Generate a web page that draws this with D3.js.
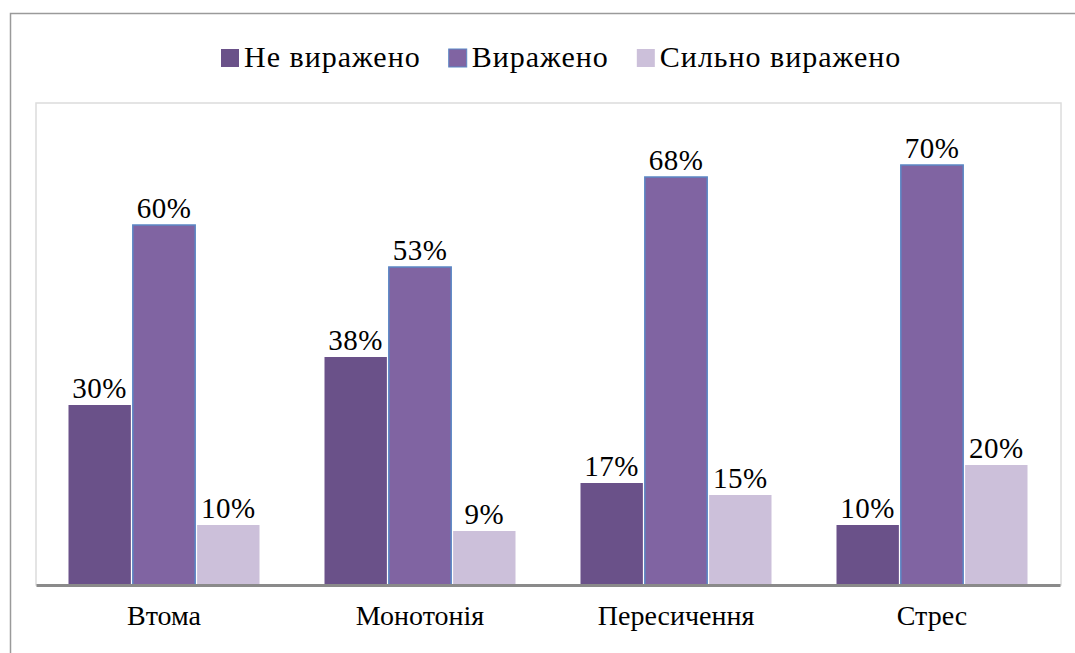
<!DOCTYPE html>
<html>
<head>
<meta charset="utf-8">
<script src="https://cdn.jsdelivr.net/npm/d3@7"></script>
<style>
  body { margin: 0; background: #fff; }
  svg text { font-family: 'Liberation Serif', 'Times New Roman', serif; fill: #000; }
</style>
</head>
<body>
<div id="chart"></div>
<script>
// chart data
const categories = ['Втома', 'Монотонія', 'Пересичення', 'Стрес']
const seriesNames = ['Не виражено', 'Виражено', 'Сильно виражено']
const notExpressed = [30, 38, 17, 10]
const expressed = [60, 53, 68, 70]
const strongExpressed = [10, 9, 15, 20]

const seriesValues = [notExpressed, expressed, strongExpressed]
const colors = ['#6a5189', '#8064a2', '#ccc0da']
const serifFont = "'Liberation Serif', 'Times New Roman', serif"

const fullWidth = 1075
const fullHeight = 653
// plot area (inner frame)
const plot = {left: 36, right: 1061, top: 103, bottom: 585}

const svg = d3.select('#chart').append('svg')
  .attr('width', fullWidth)
  .attr('height', fullHeight)
  .attr('font-family', serifFont)

// outer chart frame (runs off the right and bottom)
svg.append('path')
  .attr('d', `M10.5,${fullHeight} V13.5 H${fullWidth}`)
  .attr('fill', 'none')
  .attr('stroke', '#9a9a9a')
  .attr('stroke-width', 1.5)

// inner plot frame
svg.append('rect')
  .attr('x', plot.left)
  .attr('y', plot.top)
  .attr('width', plot.right - plot.left)
  .attr('height', plot.bottom - plot.top)
  .attr('fill', 'none')
  .attr('stroke', '#dcdcdc')
  .attr('stroke-width', 1.5)

const x0 = d3.scaleBand()
  .domain(categories)
  .range([plot.left, plot.right - 1])

const groupPad = 32.5
const x1 = d3.scaleBand()
  .domain(seriesNames)
  .range([groupPad, x0.bandwidth() - groupPad])
  .paddingInner(0.03)

const y = d3.scaleLinear()
  .domain([0, 80])
  .range([plot.bottom, plot.bottom - 480])

const rows = []
categories.forEach(function(c, i) {
  seriesNames.forEach(function(s, j) {
    rows.push({cat: c, series: s, idx: j, value: seriesValues[j][i]})
  })
})

const bars = svg.append('g').classed('bars', true)
bars.selectAll('rect.bar')
  .data(rows)
  .enter().append('rect')
  .classed('bar', true)
  .attr('x', d => x0(d.cat) + x1(d.series))
  .attr('width', x1.bandwidth())
  .attr('y', d => y(d.value))
  .attr('height', d => y(0) - y(d.value))
  .attr('fill', d => colors[d.idx])
  .attr('stroke', d => d.idx === 1 ? '#5b87c5' : 'none')
  .attr('stroke-width', 1.5)

// value labels
bars.selectAll('text.val')
  .data(rows)
  .enter().append('text')
  .classed('val', true)
  .attr('x', d => x0(d.cat) + x1(d.series) + x1.bandwidth() / 2)
  .attr('y', d => y(d.value) - 7)
  .attr('text-anchor', 'middle')
  .style('font-size', '29px')
  .style('letter-spacing', '0.5px')
  .text(d => d.value + '%')

// x axis
const xAxis = d3.axisBottom(x0).tickSize(0).tickPadding(20)
const xAxisEle = svg.append('g')
  .classed('x axis', true)
  .attr('transform', 'translate(0,' + plot.bottom + ')')
  .call(xAxis)
  .attr('font-family', serifFont)
xAxisEle.select('.domain')
  .attr('stroke', '#8a8a8a')
  .attr('stroke-width', 3)
xAxisEle.selectAll('text')
  .style('font-size', '28px')
  .attr('fill', '#000')

// legend
const legend = svg.append('g').classed('legend', true)
let lx = 221
seriesNames.forEach(function(s, j) {
  legend.append('rect')
    .attr('x', lx)
    .attr('y', 49)
    .attr('width', 18)
    .attr('height', 18)
    .attr('fill', colors[j])
    .attr('stroke', j === 1 ? '#5b87c5' : 'none')
    .attr('stroke-width', 1)
  const t = legend.append('text')
    .attr('x', lx + 23)
    .attr('y', 67)
    .style('font-size', '30px')
    .style('letter-spacing', '1px')
    .text(s)
  lx += 23 + t.node().getComputedTextLength() + 28
})
</script>
</body>
</html>
